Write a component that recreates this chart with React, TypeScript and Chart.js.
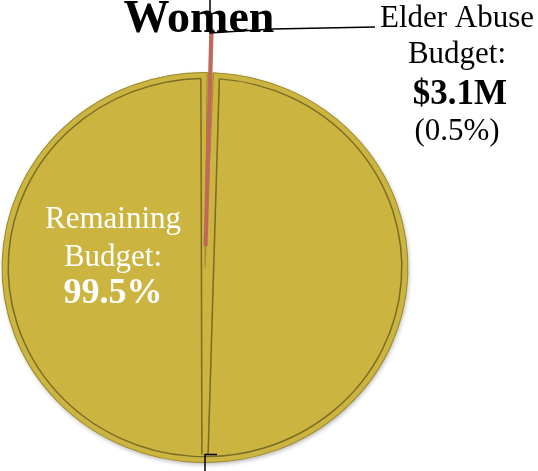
import React, { useEffect, useRef } from "react";
import { Chart, registerables } from "chart.js";

Chart.register(...registerables);

const categories = ["Remaining Budget", "Elder Abuse Budget"];
const shares = [99.5, 0.5];
const sliceColors = ["#CBB540", "#C9705F"];
const titleText = "Women";
const elderLabel = ["Elder Abuse", "Budget:", "$3.1M", "(0.5%)"];
const remainingLabel = ["Remaining", "Budget:", "99.5%"];

const SERIF = '"Liberation Serif", "Times New Roman", serif';
const SX = 1.025;
const SY = 0.985;

const decorPlugin = {
  id: "decor",
  beforeDatasetsDraw(chart: any) {
    const ctx = chart.ctx;
    const arc = chart.getDatasetMeta(0).data[0];
    if (!arc) return;
    const { x, y, outerRadius } = arc.getProps(["x", "y", "outerRadius"], true);
    ctx.save();
    ctx.translate(x, y);
    ctx.scale(SX, SY);
    ctx.translate(-x, -y);
    ctx.save();
    ctx.shadowColor = "rgba(0,0,0,0.28)";
    ctx.shadowBlur = 4;
    ctx.shadowOffsetX = 1;
    ctx.shadowOffsetY = 2;
    ctx.beginPath();
    ctx.arc(x, y, outerRadius, 0, Math.PI * 2);
    ctx.fillStyle = "#CBB540";
    ctx.fill();
    ctx.restore();
  },
  afterDatasetsDraw(chart: any) {
    const ctx = chart.ctx;
    const arc = chart.getDatasetMeta(0).data[0];
    if (!arc) return;
    const { x, y, outerRadius } = arc.getProps(["x", "y", "outerRadius"], true);
    const r = outerRadius - 6;
    const dxL = -4;
    const dxR = 14;
    const aR = Math.asin(dxR / r);
    const aL = Math.asin(dxL / r);
    ctx.save();
    ctx.strokeStyle = "#7A6C26";
    ctx.lineWidth = 1.5;
    ctx.beginPath();
    ctx.arc(x, y, r, -Math.PI / 2 + aR, -Math.PI / 2 + aL + Math.PI * 2);
    ctx.stroke();
    const topL = y - Math.sqrt(r * r - dxL * dxL);
    const topR = y - Math.sqrt(r * r - dxR * dxR);
    ctx.beginPath();
    ctx.moveTo(x + dxL, topL);
    ctx.lineTo(x - 3, y + r - 2);
    ctx.stroke();
    ctx.beginPath();
    ctx.moveTo(x + dxR, topR);
    ctx.lineTo(x + 3, y + r - 2);
    ctx.stroke();
    ctx.restore();
    ctx.restore();
  },
  afterDraw(chart: any) {
    const ctx = chart.ctx;
    const arc = chart.getDatasetMeta(0).data[0];
    if (!arc) return;
    const { x, y, outerRadius } = arc.getProps(["x", "y", "outerRadius"], true);
    const bottom = y + outerRadius * SY;
    ctx.save();
    ctx.textAlign = "center";
    ctx.textBaseline = "alphabetic";
    ctx.fillStyle = "#000";
    ctx.font = `bold 46px ${SERIF}`;
    ctx.fillText(titleText, x - 6, 32);

    ctx.strokeStyle = "#000";
    ctx.lineWidth = 1.5;
    ctx.beginPath();
    ctx.moveTo(x + 5, 0);
    ctx.lineTo(x + 5, 33);
    ctx.lineTo(x + 68, 29);
    ctx.lineTo(x + 170, 27);
    ctx.stroke();
    ctx.beginPath();
    ctx.moveTo(x + 12, bottom - 8);
    ctx.lineTo(x, bottom - 8);
    ctx.lineTo(x, bottom + 20);
    ctx.stroke();

    const ex = 457;
    ctx.fillStyle = "#000";
    ctx.font = `31px ${SERIF}`;
    ctx.fillText(elderLabel[0], ex, 27);
    ctx.fillText(elderLabel[1], ex, 63);
    ctx.font = `bold 35px ${SERIF}`;
    ctx.fillText(elderLabel[2], ex + 3, 104);
    ctx.font = `31px ${SERIF}`;
    ctx.fillText(elderLabel[3], ex, 140);

    const rx = 113;
    ctx.fillStyle = "#FFFFFF";
    ctx.font = `31px ${SERIF}`;
    ctx.fillText(remainingLabel[0], rx, 228);
    ctx.fillText(remainingLabel[1], rx, 266);
    ctx.font = `bold 36px ${SERIF}`;
    ctx.fillText(remainingLabel[2], rx, 303);
    ctx.restore();
  },
};

export default function App() {
  const ref = useRef<HTMLCanvasElement | null>(null);
  useEffect(() => {
    if (!ref.current) return;
    const chart = new Chart(ref.current, {
      type: "pie",
      data: {
        labels: categories,
        datasets: [
          {
            data: shares,
            backgroundColor: sliceColors,
            borderColor: ["#9C8B30", "#C2685A"],
            borderWidth: [1, 4],
            borderJoinStyle: "miter",
            offset: [0, 87],
            radius: 198,
            rotation: 2.4,
            clip: false,
          } as any,
        ],
      },
      options: {
        responsive: false,
        animation: false,
        devicePixelRatio: 1,
        layout: { padding: { left: 0, right: 128, top: 64, bottom: 0 } },
        plugins: {
          legend: { display: false },
          tooltip: { enabled: false },
          title: { display: false },
        },
      },
      plugins: [decorPlugin],
    });
    return () => chart.destroy();
  }, []);
  return (
    <div
      style={{
        position: "fixed",
        left: 0,
        top: 0,
        width: 538,
        height: 471,
        overflow: "hidden",
        background: "#fff",
      }}
    >
      <canvas ref={ref} width={538} height={471} style={{ width: 538, height: 471 }} />
    </div>
  );
}
